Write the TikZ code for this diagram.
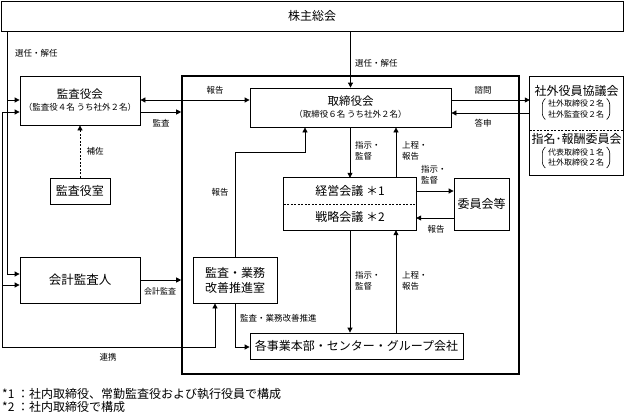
\documentclass[tikz,border=0pt]{standalone}
\usepackage{fontspec}
\setmainfont{Noto Sans CJK JP}
\usetikzlibrary{arrows.meta}
\newcommand{\parenpair}[1]{%
  \draw[line width=0.6pt,rounded corners=2.5pt]
    ([xshift=-2.5pt,yshift=10.5pt]#1.west) -- ([xshift=-5.5pt,yshift=7pt]#1.west)
    -- ([xshift=-5.5pt,yshift=-7pt]#1.west) -- ([xshift=-2.5pt,yshift=-10.5pt]#1.west);
  \draw[line width=0.6pt,rounded corners=2.5pt]
    ([xshift=2.5pt,yshift=10.5pt]#1.east) -- ([xshift=5.5pt,yshift=7pt]#1.east)
    -- ([xshift=5.5pt,yshift=-7pt]#1.east) -- ([xshift=2.5pt,yshift=-10.5pt]#1.east);}
\begin{document}
\begin{tikzpicture}[x=1pt,y=-1pt,
  box/.style={draw,line width=0.8pt,inner sep=0pt,align=center},
  ttl/.style={font=\fontsize{12}{15}\selectfont},
  lbl/.style={font=\fontsize{8.5}{11.5}\selectfont,inner sep=0pt,align=left},
  brk/.style={inner sep=0pt,align=center,font=\fontsize{8}{10.5}\selectfont},
  line/.style={line width=0.8pt},
  arr/.style={line width=0.8pt,-{Triangle[length=5pt,width=5pt]}},
  dbl/.style={line width=0.8pt,{Triangle[length=5pt,width=5pt]}-{Triangle[length=5pt,width=5pt]}},
  sep/.style={line width=0.8pt,dash pattern=on 2pt off 1.5pt}
]
\useasboundingbox (0,0) rectangle (625,416);

% ---- boxes ----
\node[box,ttl,minimum width=622,minimum height=30] (soukai) at (312,16) {株主総会};
\node[box,draw,line width=1.6pt,minimum width=337,minimum height=298] (bigbox) at (350.5,225) {};
\node[box,minimum width=120,minimum height=49] (kansayakukai) at (80,100.5)
  {{\fontsize{11.5}{14}\selectfont 監査役会}\\{\fontsize{8.5}{10}\selectfont （監査役４名 うち社外２名）}};
\node[box,fill=white,minimum width=201,minimum height=39] (torishimari) at (350.5,107.5)
  {{\fontsize{11.5}{14}\selectfont 取締役会}\\{\fontsize{8.5}{10}\selectfont （取締役６名 うち社外２名）}};
\node[box,ttl,minimum width=60,minimum height=26] (kansayakushitsu) at (80,191) {監査役室};
\node[box,ttl,minimum width=120,minimum height=46] (kaikei) at (80,280) {{\fontsize{12.5}{14}\selectfont 会計監査人}};
\node[box,ttl,minimum width=84,minimum height=46] (kaizen) at (235,280) {監査・業務\\改善推進室};
\node[inner sep=0pt,ttl,minimum width=132,minimum height=26] (keiei) at (350,191) {経営会議 ＊1};
\node[inner sep=0pt,ttl,minimum width=132,minimum height=26] (senryaku) at (350,217) {戦略会議 ＊2};
\draw[line] (keiei.north west) rectangle (senryaku.south east);
\draw[sep] (keiei.south west) -- (keiei.south east);
\node[box,ttl,minimum width=55,minimum height=52] (iinkai) at (481.5,204) {委員会等};
\node[box,ttl,minimum width=213,minimum height=26] (jigyo) at (356.5,346) {各事業本部・センター・グループ会社};

\node[inner sep=0pt,minimum width=93,minimum height=53] (kyogikai) at (576.5,103.5) {};
\node[inner sep=0pt,minimum width=93,minimum height=45] (shimei) at (576.5,152.5) {};
\draw[line] (kyogikai.north west) rectangle (shimei.south east);
\draw[sep] (kyogikai.south west) -- (kyogikai.south east);
\node[inner sep=0pt,font=\fontsize{12}{14}\selectfont] (kyogikaiT) at (576.5,91) {社外役員協議会};
\node[brk] (kyogikaiB) at (576,109) {社外取締役２名\\社外監査役２名};
\parenpair{kyogikaiB}
\node[inner sep=0pt,font=\fontsize{12}{14}\selectfont] (shimeiT) at (576.5,138.5) {指名･報酬委員会};
\node[brk] (shimeiB) at (576,157.5) {代表取締役１名\\社外取締役２名};
\parenpair{shimeiB}

% ---- connectors ----
\draw[arr] (soukai.south -| torishimari.north) -- (torishimari.north);
\node[lbl,anchor=west] (l01) at (355,63) {選任・解任};

\draw[arr] (soukai.south -| 7,0) |- (kaikei.west |- 0,274);
\draw[arr] (7,100) -- (kansayakukai.west |- 0,100);
\node[lbl,anchor=west] (l02) at (15,53) {選任・解任};

\draw[dbl] (kansayakukai.west |- 0,112) -| (2,347) -| (kaizen.south -| 215,0);
\draw[arr] (2,285) -- (kaikei.west |- 0,285);
\node[lbl] (l03) at (108,357) {連携};

\draw[dbl] (kansayakukai.east |- 0,100) -- (torishimari.west |- 0,100);
\node[lbl] (l04) at (215,90) {報告};
\draw[arr] (kansayakukai.east |- 0,112) -- (bigbox.west |- 0,112);
\node[lbl] (l05) at (161,123) {監査};
\draw[arr] (kaikei.east |- 0,280) -- (bigbox.west |- 0,280);
\node[lbl,font=\fontsize{8}{10}\selectfont] (l06) at (160,291) {会計監査};
\draw[arr,dash pattern=on 2pt off 1.5pt] (kansayakushitsu.north) -- (kansayakukai.south);
\node[lbl] (l07) at (95,151) {補佐};

\draw[arr] (kaizen.north) -- (kaizen.north |- 0,152) -| (torishimari.south -| 305,0);
\node[lbl] (l08) at (220,192) {報告};

\draw[arr] (torishimari.east |- 0,100) -- (kyogikai.west |- 0,100);
\node[lbl] (l09) at (483,90) {諮問};
\draw[arr] (kyogikai.west |- 0,113) -- (torishimari.east |- 0,113);
\node[lbl] (l10) at (483,123) {答申};

\draw[arr] (torishimari.south -| 350,0) -- (keiei.north -| 350,0);
\node[lbl,anchor=west] (l11) at (355,151) {指示・\\監督};
\draw[arr] (keiei.north -| 396,0) -- (torishimari.south -| 396,0);
\node[lbl,anchor=west] (l12) at (402,151) {上程・\\報告};

\draw[arr] (keiei.east |- 0,191) -- (iinkai.west |- 0,191);
\node[lbl,anchor=west,font=\fontsize{8.5}{10.5}\selectfont] (l13) at (421,175) {指示・\\監督};
\draw[arr] (iinkai.west |- 0,218) -- (senryaku.east |- 0,218);
\node[lbl] (l14) at (436,229) {報告};

\draw[arr] (senryaku.south -| 350,0) -- (jigyo.north -| 350,0);
\node[lbl,anchor=west] (l15) at (355,281) {指示・\\監督};
\draw[arr] (jigyo.north -| 396,0) -- (senryaku.south -| 396,0);
\node[lbl,anchor=west] (l16) at (402,281) {上程・\\報告};

\draw[arr] (kaizen.south) |- (jigyo.west |- 0,347);
\node[lbl,anchor=west] (l17) at (240,318) {監査・業務改善推進};

% ---- footnotes ----
\node[anchor=north west,align=left,inner sep=0pt,font=\fontsize{12}{13}\selectfont] (notes) at (2,388)
  {*1 ：社内取締役、常勤監査役および執行役員で構成\\*2 ：社内取締役で構成};
\end{tikzpicture}
\end{document}
